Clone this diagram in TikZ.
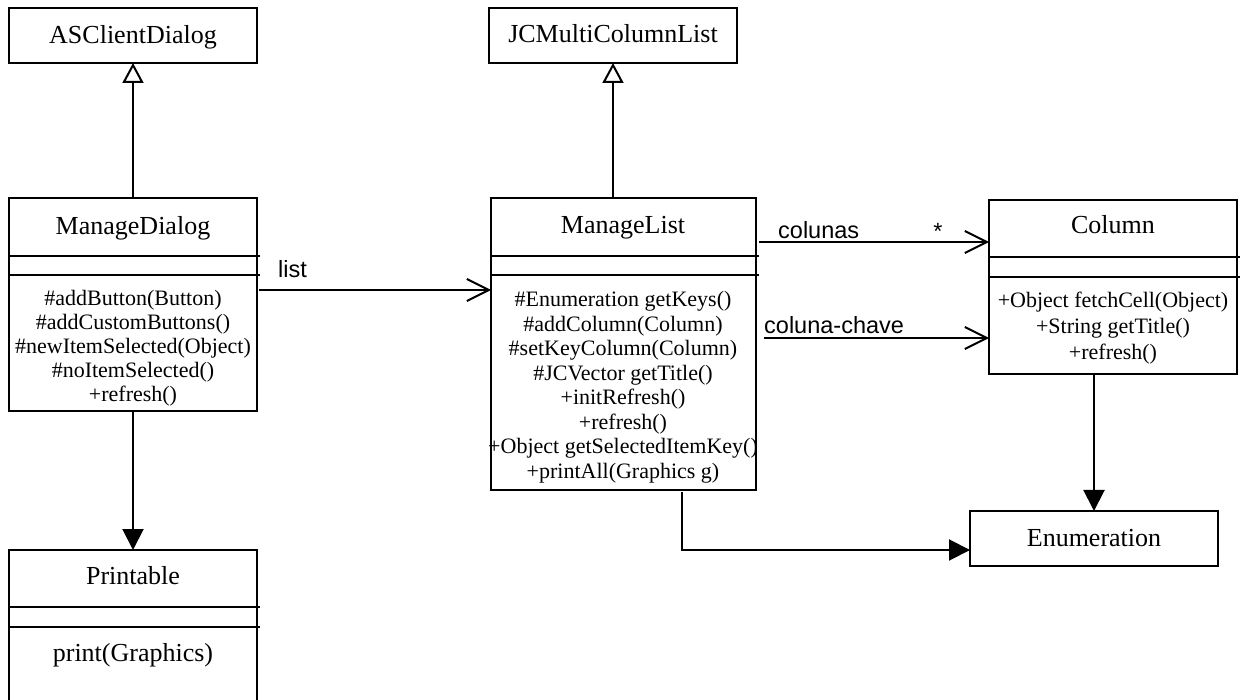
\documentclass[tikz,border=0pt]{standalone}
\usepackage{fontspec}
\setmainfont{Liberation Serif}
\newfontfamily\labelfamily{Liberation Sans}
\usetikzlibrary{arrows.meta,calc}

\newcommand{\titlefont}{\fontsize{26}{30}\selectfont}
\newcommand{\opsfont}{\fontsize{22}{24}\selectfont}
\newcommand{\rolefont}{\labelfamily\fontsize{23.5}{26}\selectfont}

\tikzset{
  classbox/.style={draw, line width=2pt, anchor=north west, inner sep=0pt, outer sep=0pt},
  ttl/.style={font=\titlefont, inner sep=0pt, anchor=base},
  ops/.style={font=\opsfont, align=center, inner sep=0pt, anchor=center},
  role/.style={font=\rolefont, inner sep=0pt, anchor=base west},
  divider/.style={line width=2pt},
  generalization/.style={line width=2pt, -{Triangle[open,length=20pt,width=21pt,line width=2pt]}},
  navigable/.style={line width=2pt, -{Straight Barb[length=22pt,width=22pt,line width=2pt]}},
  dependency/.style={line width=2pt, -{Triangle[length=21pt,width=21pt]}},
}

\begin{document}
\begin{tikzpicture}[x=1pt,y=-1pt]
\useasboundingbox (0,0) rectangle (1243,700);
\clip (0,0) rectangle (1243,700);

% superclasses
\node[classbox, minimum width=248pt, minimum height=55pt] (asc) at (9,8) {};
\node[ttl] (ascT) at (133,44) {ASClientDialog};
\node[classbox, minimum width=248pt, minimum height=55pt] (jcm) at (489,8) {};
\node[ttl] (jcmT) at (613,43) {JCMultiColumnList};

% ManageDialog
\node[classbox, minimum width=248pt, minimum height=213pt] (md) at (9,198) {};
\node[ttl] (mdT) at (133,235) {ManageDialog};
\draw[divider] (9,256) -- (260,256);
\draw[divider] (9,275) -- (260,275);
\node[ops] (mdOps) at (133,348) {\#addButton(Button)\\ \#addCustomButtons()\\ \#newItemSelected(Object)\\ \#noItemSelected()\\ +refresh()};

% Printable (runs past the lower edge)
\node[classbox, minimum width=248pt, minimum height=180pt] (pr) at (9,550) {};
\node[ttl] (prT) at (133,584) {Printable};
\draw[divider] (9,607) -- (260,607);
\draw[divider] (9,627) -- (260,627);
\node[ttl] (prOps) at (133,661) {print(Graphics)};

% ManageList
\node[classbox, minimum width=265pt, minimum height=292pt] (ml) at (491,198) {};
\node[ttl] (mlT) at (623,234) {ManageList};
\draw[divider] (491,256) -- (759,256);
\draw[divider] (491,275) -- (759,275);
\node[ops, font=\fontsize{22}{24.5}\selectfont] (mlOps) at (623,387) {\#Enumeration getKeys()\\ \#addColumn(Column)\\ \#setKeyColumn(Column)\\ \#JCVector getTitle()\\ +initRefresh()\\ +refresh()\\ +Object getSelectedItemKey()\\ +printAll(Graphics g)};

% Column
\node[classbox, minimum width=248pt, minimum height=174pt] (col) at (989,200) {};
\node[ttl] (colT) at (1113,234) {Column};
\draw[divider] (989,257) -- (1240,257);
\draw[divider] (989,277) -- (1240,277);
\node[ops, font=\fontsize{22}{26}\selectfont] (colOps) at (1113,328) {+Object fetchCell(Object)\\ +String getTitle()\\ +refresh()};

% Enumeration
\node[classbox, minimum width=248pt, minimum height=55pt] (en) at (970,511) {};
\node[ttl] (enT) at (1094,546) {Enumeration};

% connectors
\draw[generalization] (md.north -| asc.south) -- (asc.south);
\draw[generalization] (jcm.south |- ml.north) -- (jcm.south);
\draw[dependency] (md.south) -- (pr.north);
\draw[navigable] ($(md.north east)+(2,92)$) -- ($(ml.north west)+(0,92)$);
\draw[navigable] ($(ml.north east)+(3,44)$) coordinate (c1) -- (c1 -| col.west);
\draw[navigable] ($(ml.north east)+(8,140)$) coordinate (c2) -- (c2 -| col.west);
\draw[dependency] ($(ml.south west)+(191,2)$) |- ($(en.south west)+(0,-16)$);
\draw[dependency] (en.north |- col.south) -- (en.north);

% role names
\node[role] (lList) at (278,278) {list};
\node[role] (lCol) at (778,239) {colunas};
\node[role, anchor=base] (lMany) at (938,240) {*};
\node[role] (lKey) at (764,334) {coluna-chave};
\end{tikzpicture}
\end{document}
